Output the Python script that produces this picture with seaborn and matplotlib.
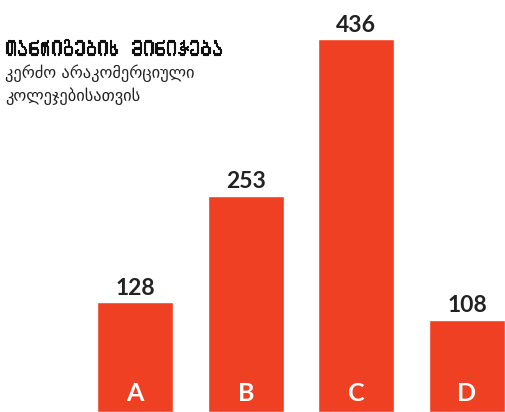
import matplotlib
matplotlib.use("Agg")
import matplotlib.pyplot as plt
import matplotlib.patheffects as pe
import seaborn as sns
import pandas as pd
from matplotlib import font_manager
from matplotlib.ft2font import FT2Font

categories = ["A", "B", "C", "D"]
values = [128, 253, 436, 108]
title_mtavruli = "ᲗᲐᲜᲠᲘᲒᲔᲑᲘᲡ ᲛᲘᲜᲘᲭᲔᲑᲐ"
title_mkhedruli = "თანრიგების მინიჭება"
subtitle_lines = ["კერძო არაკომერციული", "კოლეჯებისათვის"]

def has_glyphs(path, text):
    try:
        f = FT2Font(path)
        return all(f.get_char_index(ord(c)) != 0 for c in text if not c.isspace())
    except Exception:
        return False

title_font = None
title_text = title_mkhedruli
for fe in font_manager.fontManager.ttflist:
    if has_glyphs(fe.fname, title_mtavruli):
        title_font = fe.name
        title_text = title_mtavruli
        break
if title_font is None:
    title_font = "DejaVu Sans"

sns.set_theme(style="white")
plt.rcParams["font.family"] = ["Lato", "DejaVu Sans"]

df = pd.DataFrame({"cat": categories, "val": values})
red = "#EF4023"

fig = plt.figure(figsize=(5.05, 4.12), dpi=100)
ax = fig.add_axes([0, 0, 1, 1])
sns.barplot(data=df, x="cat", y="val", color=red, saturation=1, width=0.687, ax=ax)
ax.set_xlim(-1.22, 3.343)
ax.set_ylim(0, 481.6)
ax.axis("off")

for i, (c, v) in enumerate(zip(categories, values)):
    ax.text(i, v + 4, str(v), ha="center", va="bottom", fontsize=16.5,
            fontweight="bold", color="#222222")
    ax.text(i, 22, c, ha="center", va="center", fontsize=18,
            fontweight="bold", color="white")

fig.text(5 / 505, 1 - 48 / 412, title_text, ha="left", va="center",
         fontsize=16.5, fontweight="bold", color="#111111",
         family=[title_font, "DejaVu Sans"],
         path_effects=[pe.withStroke(linewidth=0.8, foreground="#111111")])
for k, line in enumerate(subtitle_lines):
    fig.text(5 / 505, 1 - (73 + 23 * k) / 412, line, ha="left", va="center",
             fontsize=11.8, color="#222222", family=["DejaVu Sans"])

fig.savefig("out.png", dpi=100)
